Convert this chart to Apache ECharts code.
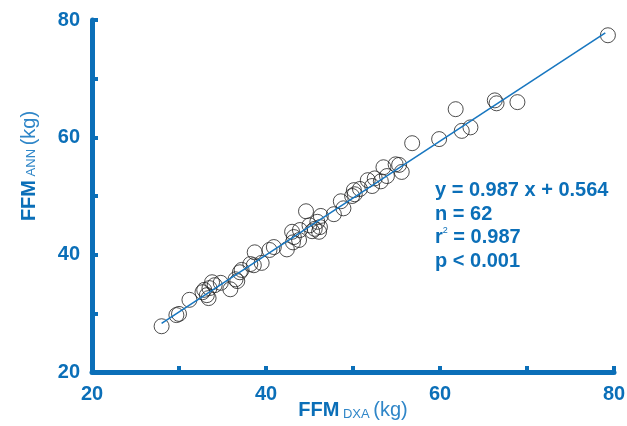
<!DOCTYPE html>
<html>
<head>
<meta charset="utf-8">
<script src="https://cdn.jsdelivr.net/npm/echarts@6/dist/echarts.min.js"></script>
<style>
  html, body { margin: 0; padding: 0; background: #fff; }
  #chart { width: 627px; height: 426px; }
</style>
</head>
<body>
<div id="chart"></div>
<script>
// FFM DXA (x) vs FFM ANN (y), kg
var ffmDxa = [28.0, 29.7, 30.0, 31.2, 32.9, 33.2, 33.4, 33.5, 33.8, 34.1,
  34.8, 35.9, 36.7, 37.0, 37.2, 38.2, 38.6, 38.7, 39.5, 40.4,
  40.9, 42.4, 43.0, 43.2, 43.1, 44.6, 45.0, 45.3, 45.6, 46.1,
  46.3, 46.2, 47.8, 48.6, 48.9, 49.9, 50.2, 50.1, 51.7, 52.2,
  52.5, 53.2, 53.5, 54.9, 55.3, 55.6, 56.8, 59.9, 61.8, 62.5,
  63.5, 66.3, 66.5, 68.9, 79.3, 32.7, 36.5, 43.9, 45.9, 50.8,
  53.9, 43.8];
var ffmAnn = [27.8, 29.7, 29.9, 32.3, 34.0, 33.1, 32.6, 34.3, 35.3, 34.8,
  35.2, 34.1, 35.5, 37.0, 37.4, 38.4, 38.2, 40.4, 38.6, 40.8,
  41.3, 40.9, 43.9, 43.0, 42.1, 47.4, 45.0, 44.0, 44.4, 43.9,
  46.6, 44.7, 46.9, 49.1, 47.9, 50.0, 50.3, 51.0, 52.7, 51.7,
  53.0, 52.5, 54.9, 55.4, 55.3, 54.1, 59.0, 59.7, 64.8, 61.1,
  61.7, 66.3, 65.8, 66.0, 77.4, 33.6, 35.8, 44.2, 45.6, 51.2,
  53.4, 42.5];
// regression line end points
var fitX = [28.0, 79.0];
var fitY = [28.3, 77.8];
var axisTicks = [20, 40, 60, 80];
var statsLines = ['y = 0.987 x + 0.564', 'n = 62', 'r{sup|2} = 0.987', 'p < 0.001'];

var blue = '#0b6fb8';
var points = ffmDxa.map(function (x, i) { return [x, ffmAnn[i]]; });
var fitLine = fitX.map(function (x, i) { return [x, fitY[i]]; });

function axisCommon() {
  return {
    type: 'value',
    min: 20,
    max: 80,
    interval: 10,
    splitLine: { show: false },
    axisLine: { show: true, lineStyle: { color: blue, width: 5 } },
    axisTick: { show: true, inside: true, length: 6, lineStyle: { color: blue, width: 4 } },
    axisLabel: {
      color: blue,
      fontFamily: 'Liberation Sans',
      fontWeight: 'bold',
      fontSize: 20,
      formatter: function (v) { return axisTicks.indexOf(v) >= 0 ? String(v) : ''; }
    }
  };
}

var chart = echarts.init(document.getElementById('chart'));

var xAxis = axisCommon();
xAxis.axisLabel.margin = 12;
xAxis.name = '{b|FFM}{s| DXA }{l|(kg)}';
xAxis.nameLocation = 'middle';
xAxis.nameGap = 27;
xAxis.nameMoveOverlap = false;
xAxis.nameTextStyle = {
  rich: {
    b: { color: blue, fontFamily: 'Liberation Sans', fontWeight: 'bold', fontSize: 20, lineHeight: 22 },
    s: { color: '#2f86c8', fontFamily: 'Liberation Sans', fontSize: 13, lineHeight: 22, verticalAlign: 'bottom' },
    l: { color: '#2f86c8', fontFamily: 'Liberation Sans', fontSize: 20, lineHeight: 22 }
  }
};

var yAxis = axisCommon();
yAxis.axisLabel.margin = 12;

chart.setOption({
  animation: false,
  grid: { left: 92, right: 13, top: 20, bottom: 54, containLabel: false, outerBoundsMode: 'none' },
  xAxis: xAxis,
  yAxis: yAxis,
  graphic: [
    {
      type: 'text',
      x: 29,
      y: 166,
      rotation: Math.PI / 2,
      style: {
        text: '{b|FFM}{s| ANN }{l|(kg)}',
        align: 'center',
        verticalAlign: 'middle',
        rich: {
          b: { fill: blue, fontFamily: 'Liberation Sans', fontWeight: 'bold', fontSize: 20 },
          s: { fill: '#2f86c8', fontFamily: 'Liberation Sans', fontSize: 13, padding: [5, 0, 0, 0] },
          l: { fill: '#2f86c8', fontFamily: 'Liberation Sans', fontSize: 20 }
        }
      }
    },
    {
      type: 'text',
      left: 435,
      top: 179,
      style: {
        text: statsLines.join('\n'),
        fill: blue,
        fontFamily: 'Liberation Sans',
        fontWeight: 'bold',
        fontSize: 20,
        lineHeight: 23.5,
        rich: {
          sup: { fill: blue, fontFamily: 'Liberation Sans', fontSize: 9, verticalAlign: 'top', padding: [0, 0, 8, 0] }
        }
      }
    }
  ],
  series: [
    {
      type: 'scatter',
      data: points,
      symbol: 'circle',
      symbolSize: 15,
      itemStyle: { color: 'rgba(0,0,0,0)', borderColor: '#222', borderWidth: 1 },
      z: 2
    },
    {
      type: 'line',
      data: fitLine,
      showSymbol: false,
      lineStyle: { color: '#1877c0', width: 1.6 },
      z: 3
    }
  ]
});
</script>
</body>
</html>
